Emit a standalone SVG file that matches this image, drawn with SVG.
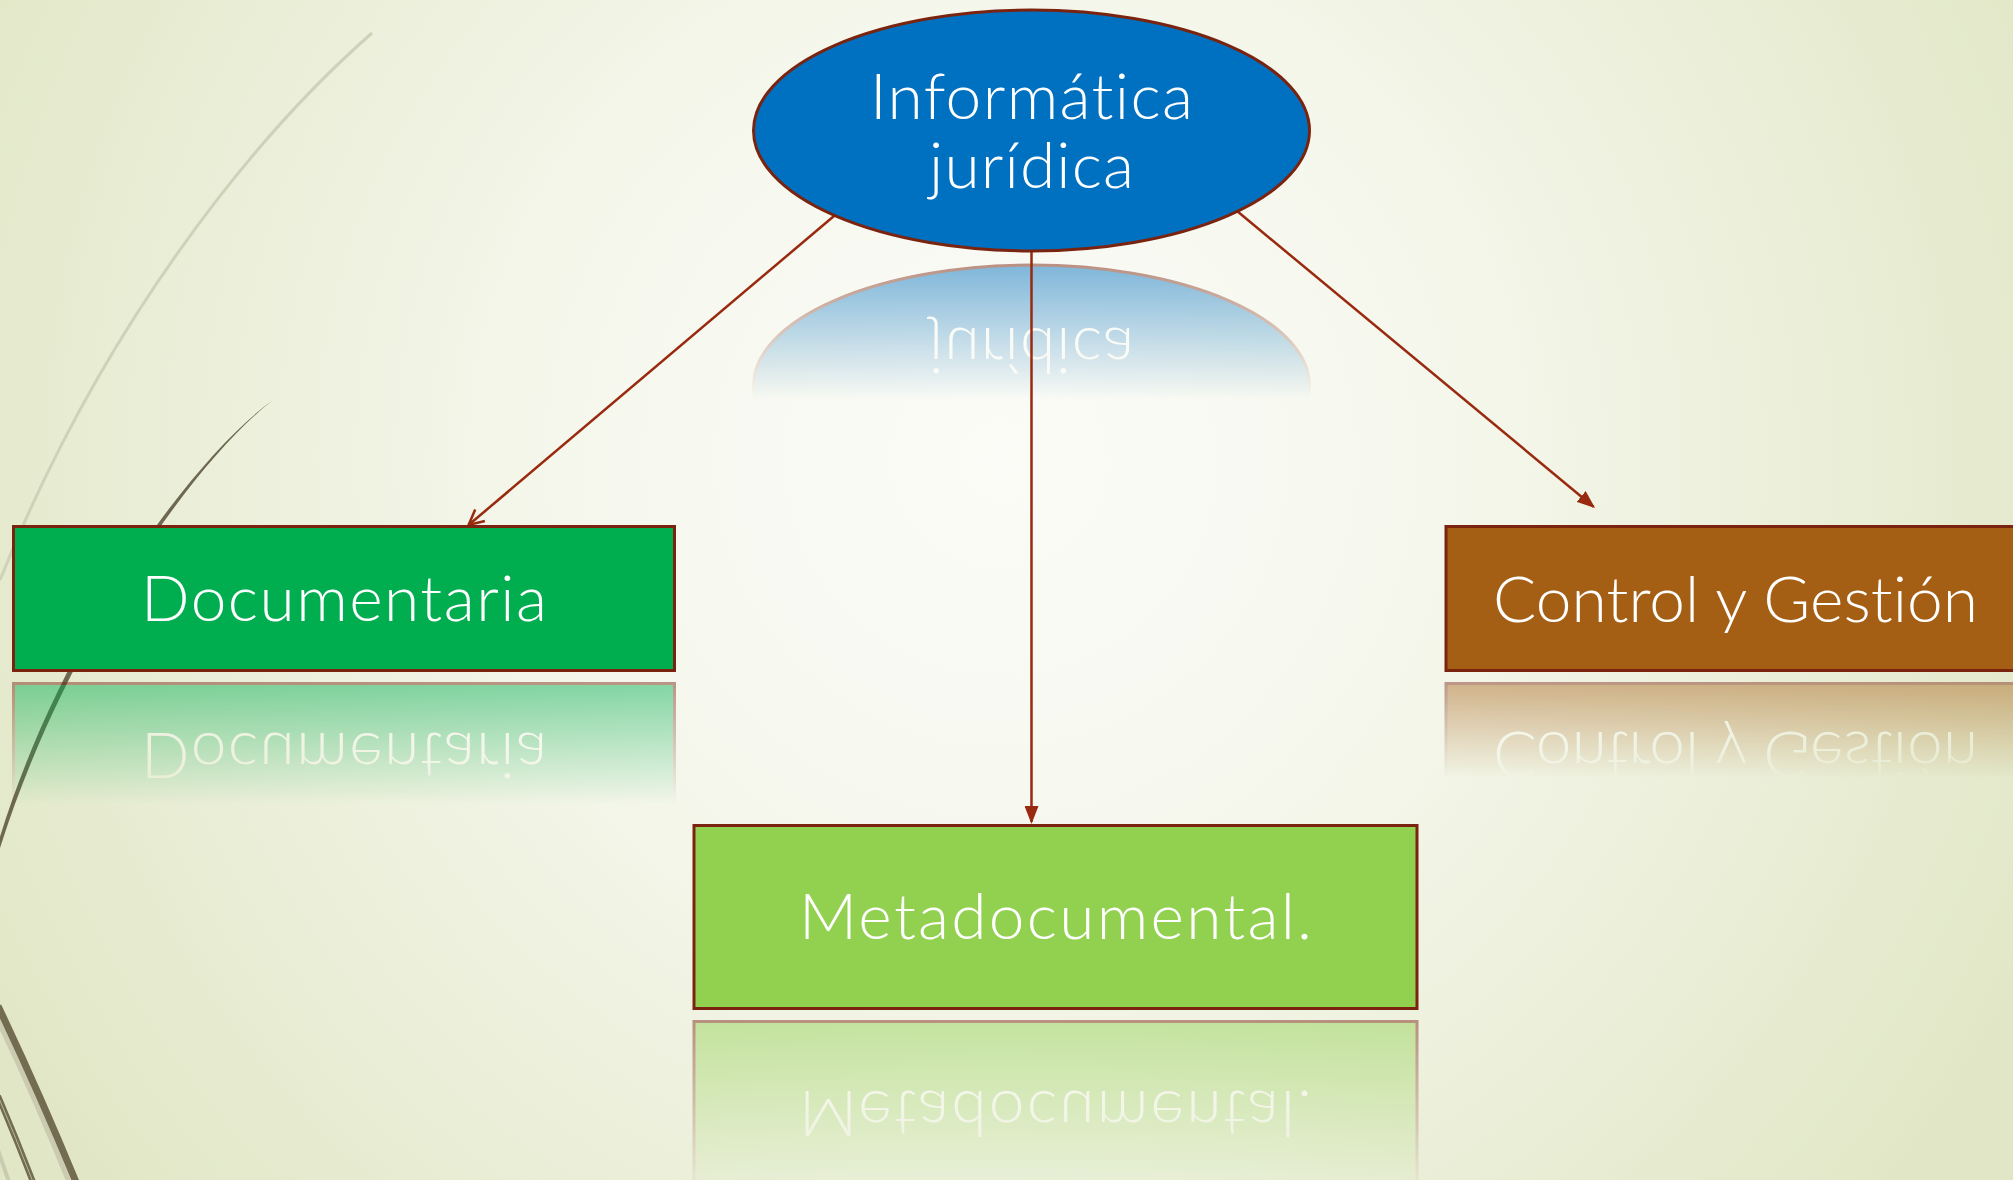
<svg xmlns="http://www.w3.org/2000/svg" xmlns:xlink="http://www.w3.org/1999/xlink" width="2013" height="1180" viewBox="0 0 2013 1180">
<defs>
<style>
.lbl{font-family:Lato,"Liberation Sans",Arial,sans-serif;font-weight:300;font-size:64px;fill:#ffffff;text-anchor:middle;font-variant-ligatures:none;font-feature-settings:"liga" 0,"clig" 0;}
.shape{stroke:#7a2410;stroke-width:3;}
.conn{stroke:#99290f;stroke-width:2.5;fill:none;}
</style>
<radialGradient id="bg" gradientUnits="userSpaceOnUse" cx="1000" cy="460" r="1150">
<stop offset="0" stop-color="#fbfbf7"/>
<stop offset="0.35" stop-color="#f6f8ee"/>
<stop offset="0.7" stop-color="#ebefd9"/>
<stop offset="1" stop-color="#e1e7c6"/>
</radialGradient>
<linearGradient id="gEll" gradientUnits="userSpaceOnUse" x1="0" y1="262" x2="0" y2="400">
<stop offset="0" stop-color="#fff" stop-opacity="0.5"/>
<stop offset="1" stop-color="#fff" stop-opacity="0"/>
</linearGradient>
<linearGradient id="gDoc" gradientUnits="userSpaceOnUse" x1="0" y1="681" x2="0" y2="805">
<stop offset="0" stop-color="#fff" stop-opacity="0.48"/>
<stop offset="1" stop-color="#fff" stop-opacity="0"/>
</linearGradient>
<linearGradient id="gCtl" gradientUnits="userSpaceOnUse" x1="0" y1="681" x2="0" y2="778">
<stop offset="0" stop-color="#fff" stop-opacity="0.46"/>
<stop offset="1" stop-color="#fff" stop-opacity="0"/>
</linearGradient>
<linearGradient id="gMeta" gradientUnits="userSpaceOnUse" x1="0" y1="1019" x2="0" y2="1190">
<stop offset="0" stop-color="#fff" stop-opacity="0.48"/>
<stop offset="1" stop-color="#fff" stop-opacity="0.02"/>
</linearGradient>
<mask id="mEll" maskUnits="userSpaceOnUse" x="0" y="0" width="2013" height="1180"><rect x="0" y="258" width="2013" height="150" fill="url(#gEll)"/></mask>
<mask id="mDoc" maskUnits="userSpaceOnUse" x="0" y="0" width="2013" height="1180"><rect x="0" y="677" width="1000" height="135" fill="url(#gDoc)"/></mask>
<mask id="mCtl" maskUnits="userSpaceOnUse" x="0" y="0" width="2013" height="1180"><rect x="1000" y="677" width="1013" height="110" fill="url(#gCtl)"/></mask>
<mask id="mMeta" maskUnits="userSpaceOnUse" x="0" y="0" width="2013" height="1180"><rect x="0" y="1015" width="2013" height="165" fill="url(#gMeta)"/></mask>
<marker id="arrFill" viewBox="0 0 18 14" refX="16" refY="7" markerWidth="18" markerHeight="14" orient="auto" markerUnits="userSpaceOnUse">
<path d="M0,0 L18,7 L0,14 Z" fill="#99290f"/>
</marker>
<marker id="arrOpen" viewBox="0 0 20 20" refX="17" refY="10" markerWidth="20" markerHeight="20" orient="auto" markerUnits="userSpaceOnUse" overflow="visible">
<path d="M2,2.5 L17,10 L2,17.5" fill="none" stroke="#99290f" stroke-width="2.5"/>
</marker>
</defs>

<rect x="0" y="0" width="2013" height="1180" fill="url(#bg)"/>

<g id="decor">
<path d="M372,33 C250,140 100,330 0,580" fill="none" stroke="#cfd1b9" stroke-width="3"/>
<path d="M273,400 C190,460 60,640 -1,840 L0,848 C64,645 193,462 273,400 Z" fill="#6e6850"/>
<path d="M-4,1016 Q34,1095 69,1182" fill="none" stroke="#cacbb0" stroke-width="5"/>
<path d="M-2,1006 Q38,1090 76,1182" fill="none" stroke="#736c50" stroke-width="7"/>
<path d="M-2,1096 Q16,1138 33,1182" fill="none" stroke="#736c50" stroke-width="6"/>
<path d="M-2,1096 Q16,1138 33,1182" fill="none" stroke="#b8b89c" stroke-width="1"/>
<path d="M-2,1150 L9,1182" fill="none" stroke="#cacbb0" stroke-width="4"/>
</g>

<g id="reflections">
<g mask="url(#mEll)"><use xlink:href="#node-informatica" href="#node-informatica" transform="translate(0,516) scale(1,-1)"/></g>
<g mask="url(#mDoc)"><use xlink:href="#node-documentaria" href="#node-documentaria" transform="translate(0,1354) scale(1,-1)"/></g>
<g mask="url(#mCtl)"><use xlink:href="#node-control" href="#node-control" transform="translate(0,1354) scale(1,-1)"/></g>
<g mask="url(#mMeta)"><use xlink:href="#node-metadocumental" href="#node-metadocumental" transform="translate(0,2030) scale(1,-1)"/></g>
</g>

<g id="connectors">
<line class="conn" x1="834" y1="216" x2="468.6" y2="525" marker-end="url(#arrOpen)"/>
<line class="conn" x1="1031.5" y1="251" x2="1031.5" y2="822" marker-end="url(#arrFill)"/>
<line class="conn" x1="1237" y1="211" x2="1593.5" y2="506.7" marker-end="url(#arrFill)"/>
</g>

<g id="node-informatica">
<ellipse class="shape" cx="1031.5" cy="130.5" rx="278" ry="120.5" fill="#0070c0"/>
<text class="lbl" x="1031.5" y="119" textLength="323">Informática</text>
<text class="lbl" x="1031.5" y="188" textLength="205">jurídica</text>
</g>

<g id="node-documentaria">
<rect class="shape" x="13.5" y="526.5" width="661" height="144" fill="#00ae50"/>
<text class="lbl" x="344" y="621" textLength="406">Documentaria</text>
</g>

<g id="node-control">
<rect class="shape" x="1446" y="526.5" width="590" height="144" fill="#a55f15"/>
<text class="lbl" x="1735.5" y="622" textLength="485">Control y Gestión</text>
</g>

<g id="node-metadocumental">
<rect class="shape" x="694" y="825.5" width="723" height="183" fill="#92d050"/>
<text class="lbl" x="1055.5" y="939" textLength="513">Metadocumental.</text>
</g>
</svg>
